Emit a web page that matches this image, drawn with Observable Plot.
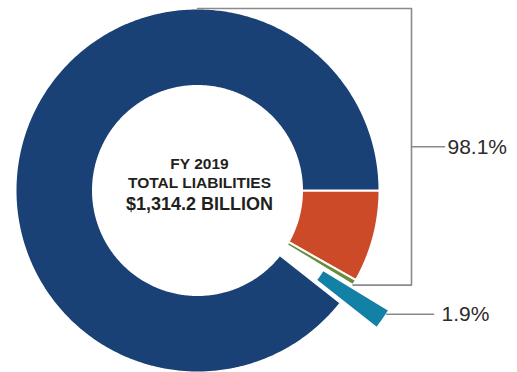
<!DOCTYPE html>
<html>
<head>
<meta charset="utf-8">
<script src="https://cdn.jsdelivr.net/npm/d3@7"></script>
<script src="https://cdn.jsdelivr.net/npm/@observablehq/plot@0.6"></script>
<style>
  html, body { margin: 0; padding: 0; background: #fff; }
  #chart svg { display: block; }
</style>
</head>
<body>
<div id="chart"></div>
<script>
// ---- data (clockwise from 3 o'clock) ----
const categories = ["Liability group B", "Liability group C", "Other liabilities", "Liability group A"];
const shares = [8.2, 0.5, 1.9, 89.4];           // percent of total liabilities
const explodedSlice = "Other liabilities";
const centerLines = ["FY 2019", "TOTAL LIABILITIES", "$1,314.2 BILLION"];
const groupLabels = ["98.1%", "1.9%"];

// ---- styles / layout ----
const colors = ["#cc4a28", "#6a8c3a", "#1380a6", "#1a4175"];
const W = 517, H = 372;
const CX = 197, CY = 190, R = 182, R0 = 104.5;
const explodePx = 44;
const bracketXpx = 411, tickLenPx = 33, labelGapPx = 3;

const pie = d3.pie().sort(null).startAngle(Math.PI / 2).endAngle(Math.PI / 2 + 2 * Math.PI)(shares);
const rin = R0 / R;

function slicePoints(a0, a1, off) {
  const n = Math.max(2, Math.ceil((a1 - a0) / 0.01));
  const pts = [];
  const ox = off * Math.sin((a0 + a1) / 2), oy = off * Math.cos((a0 + a1) / 2);
  for (let i = 0; i <= n; i++) { const t = a0 + (a1 - a0) * i / n; pts.push({x: ox + Math.sin(t), y: oy + Math.cos(t)}); }
  for (let i = n; i >= 0; i--) { const t = a0 + (a1 - a0) * i / n; pts.push({x: ox + rin * Math.sin(t), y: oy + rin * Math.cos(t)}); }
  return pts;
}

const slices = pie.map((p, i) => ({
  cat: categories[i],
  color: colors[i],
  a0: p.startAngle, a1: p.endAngle,
  off: categories[i] === explodedSlice ? explodePx / R : 0
}));

const marks = slices.map(s => Plot.line(slicePoints(s.a0, s.a1, s.off), {
  x: "x", y: "y", fill: s.color, stroke: "white", strokeWidth: 2, curve: "linear-closed"
}));

// bracket for 98.1% (all slices except exploded): from circle top to end of slice before exploded
const exIdx = categories.indexOf(explodedSlice);
const prevEnd = slices[exIdx - 1].a1;
const bx = (bracketXpx - CX) / R;
const yb = Math.cos(prevEnd);
const xb = Math.sin(prevEnd);
const ymid = (1 + yb) / 2;
const lineStyle = {x: "x", y: "y", stroke: "#8a8a8a", strokeWidth: 1.6};
marks.push(Plot.line([{x: 0, y: 1}, {x: bx, y: 1}, {x: bx, y: yb}, {x: xb, y: yb}], lineStyle));
marks.push(Plot.line([{x: bx, y: ymid}, {x: bx + tickLenPx / R, y: ymid}], lineStyle));
marks.push(Plot.text([groupLabels[0]], {x: bx + (tickLenPx + labelGapPx) / R, y: ymid, text: d => d,
  textAnchor: "start", fontSize: 21, fill: "#2b2b2b", fontFamily: "Liberation Sans, Arial, sans-serif"}));

// leader for exploded slice (from its outer edge, slightly above the middle)
const ex = slices[exIdx];
const am = (ex.a0 + ex.a1) / 2 - 0.28 * (ex.a1 - ex.a0);
const amid = (ex.a0 + ex.a1) / 2;
const ex0 = ex.off * Math.sin(amid) + Math.sin(am), ey0 = ex.off * Math.cos(amid) + Math.cos(am);
const lx1 = bx + 22 / R;
marks.push(Plot.line([{x: ex0, y: ey0}, {x: lx1, y: ey0}], lineStyle));
marks.push(Plot.text([groupLabels[1]], {x: lx1 + 8 / R, y: ey0, text: d => d,
  textAnchor: "start", fontSize: 21, fill: "#2b2b2b", fontFamily: "Liberation Sans, Arial, sans-serif"}));

// center text
const lineOffsetsPx = [-26, -7, 14];
const lineSizes = [15.5, 15.5, 18];
centerLines.forEach((t, i) => {
  marks.push(Plot.text([t], {x: 2 / R, y: -lineOffsetsPx[i] / R, text: d => d,
    fontSize: lineSizes[i], fontWeight: "bold", fill: "#231f20",
    fontFamily: "Liberation Sans, Arial, sans-serif"}));
});

const chart = Plot.plot({
  width: W, height: H,
  margin: 0,
  x: {domain: [-CX / R, (W - CX) / R], axis: null},
  y: {domain: [-(H - CY) / R, CY / R], axis: null},
  marks
});
document.getElementById("chart").appendChild(chart);
</script>
</body>
</html>
